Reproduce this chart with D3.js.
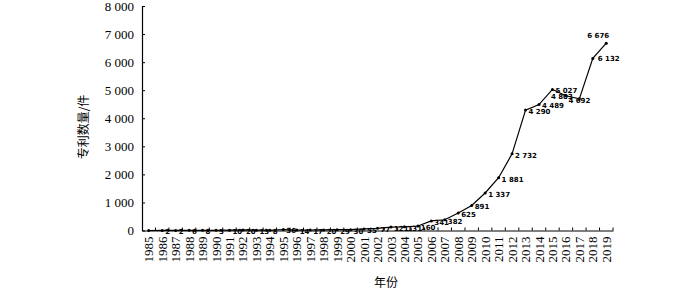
<!DOCTYPE html>
<html>
<head>
<meta charset="utf-8">
<script src="https://cdn.jsdelivr.net/npm/d3@7"></script>
<style>
  body { margin: 0; background: #fff; }
  .tick text { font-family: "Liberation Serif", "Times New Roman", serif; font-size: 13px; fill: #000; }
  .pt-label { font-family: "DejaVu Sans", sans-serif; font-size: 7px; font-weight: bold; fill: #000; }
  .title { font-family: "Noto Sans CJK SC", sans-serif; font-size: 12px; fill: #000; }
</style>
</head>
<body>
<div id="chart-area"></div>
<script>
// patents per year
var years = ["1985","1986","1987","1988","1989","1990","1991","1992","1993","1994","1995","1996",
  "1997","1998","1999","2000","2001","2002","2003","2004","2005","2006","2007","2008","2009",
  "2010","2011","2012","2013","2014","2015","2016","2017","2018","2019"];
var counts = [0, 2, 2, 6, 8, 5, 10, 20, 13, 8, 36, 14, 17, 20, 29, 30, 55, 77, 121, 131, 160,
  341, 382, 625, 891, 1337, 1881, 2732, 4290, 4489, 5027, 4803, 4692, 6132, 6676];
var yTicks = [0, 1000, 2000, 3000, 4000, 5000, 6000, 7000, 8000];

var chartWidth = 700, chartHeight = 292;
var margin = {left: 142, right: 613, top: 6, bottom: 230.5};

var svg = d3.select("#chart-area").append("svg").attr("width", chartWidth).attr("height", chartHeight);

var x = d3.scaleBand().domain(years).range([margin.left, margin.right]);
var y = d3.scaleLinear().domain([0, 8000]).range([margin.bottom, margin.top]);
var fmt = function(v) { return d3.format(",")(v).replace(/,/g, " "); };
var cx = function(i) { return x(years[i]) + x.bandwidth() / 2; };

var yAxis = d3.axisLeft(y).tickValues(yTicks).tickFormat(fmt).tickSizeInner(-3).tickSizeOuter(0).tickPadding(8);
svg.append("g").attr("transform", "translate(" + margin.left + ",0)").call(yAxis);

// ticks between categories
var xAxis = d3.axisBottom(x).tickSize(0).tickPadding(0);
var xg = svg.append("g").attr("transform", "translate(0," + margin.bottom + ")").call(xAxis);
xg.selectAll(".tick text").attr("transform", "rotate(-90)").attr("text-anchor", "end")
  .attr("x", -6).attr("y", 0).attr("dy", "0.35em");
xg.selectAll(".sep").data(years).enter().append("line").attr("class", "sep")
  .attr("x1", function(d) { return x(d) + x.bandwidth(); })
  .attr("x2", function(d) { return x(d) + x.bandwidth(); })
  .attr("y1", 0).attr("y2", -3).attr("stroke", "#000");
svg.selectAll(".domain").attr("stroke", "#000").attr("stroke-width", 1.2);

var line = d3.line().x(function(d, i) { return cx(i); }).y(function(d) { return y(d); });
svg.append("path").datum(counts).attr("d", line).attr("fill", "none")
  .attr("stroke", "#000").attr("stroke-width", 1.2);

svg.selectAll(".pt").data(counts).enter().append("circle").attr("class", "pt")
  .attr("cx", function(d, i) { return cx(i); })
  .attr("cy", function(d) { return y(d); })
  .attr("r", 1.5).attr("fill", "#000");

// label placement tweaks by year
var place = {
  "2016": {dx: -4, dy: 1, anchor: "middle"},
  "2017": {dx: 0, dy: 1.5, anchor: "middle"},
  "2019": {dx: -8, dy: -8, anchor: "middle"},
  "2018": {dx: 5, dy: 0, anchor: "start"}
};
var labels = counts.map(function(v, i) {
  var p = place[years[i]] || {dx: 3, dy: 1.5, anchor: "start"};
  return {v: v, i: i, p: p};
}).filter(function(d) { return d.v > 0; });

svg.selectAll(".pt-label").data(labels).enter().append("text").attr("class", "pt-label")
  .attr("x", function(d) { return cx(d.i) + d.p.dx; })
  .attr("y", function(d) { return y(d.v) + d.p.dy; })
  .attr("dy", "0.35em")
  .attr("text-anchor", function(d) { return d.p.anchor; })
  .text(function(d) { return fmt(d.v); });

svg.append("text").attr("class", "title").attr("transform", "translate(84,127) rotate(-90)")
  .attr("text-anchor", "middle").attr("dy", "0.35em").text("专利数量/件");
svg.append("text").attr("class", "title").attr("x", 386).attr("y", 283)
  .attr("text-anchor", "middle").attr("dy", "0.35em").text("年份");
</script>
</body>
</html>
